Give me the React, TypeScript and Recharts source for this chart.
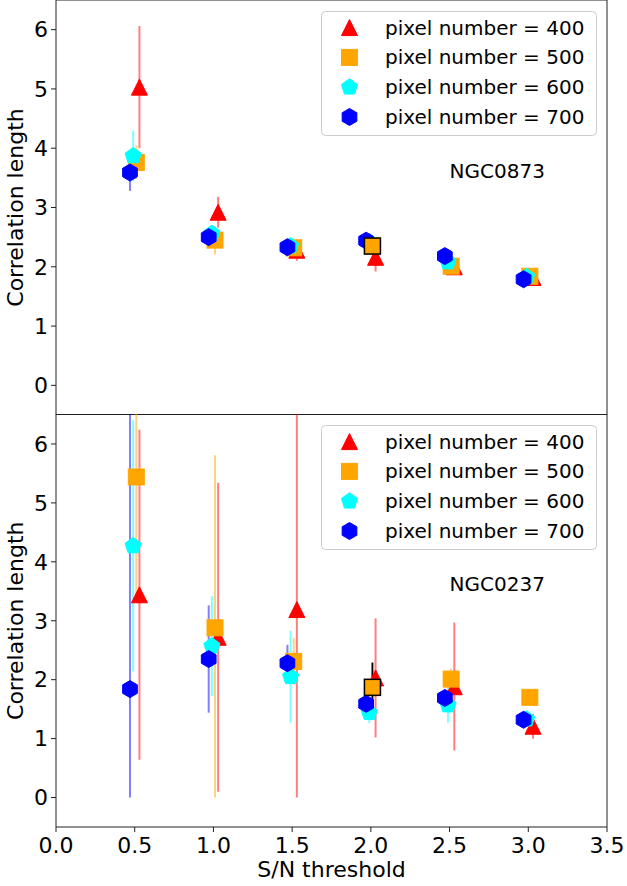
import React from 'react';
import {
  ScatterChart, Scatter, XAxis, YAxis, ErrorBar, ReferenceArea, ReferenceDot, Legend, Label,
} from 'recharts';

const FONT = '"DejaVu Sans", sans-serif';

// ---------- data ----------
const thresholds = [0.5, 1.0, 1.5, 2.0, 2.5, 3.0];
const pixelNumbers = [400, 500, 600, 700];
const xOffsets = [0.03, 0.01, -0.01, -0.03];
const xTicks = [0, 0.5, 1.0, 1.5, 2.0, 2.5, 3.0, 3.5];
const yTicks = [0, 1, 2, 3, 4, 5, 6];

// NGC0873 (top panel)
const n0873_400 = [5.03, 2.92, 2.28, 2.16, 2.0, 1.82];
const n0873_400_err = [1.03, 0.26, 0.18, 0.24, 0.08, 0.05];
const n0873_500 = [3.76, 2.45, 2.32, 2.35, 2.01, 1.84];
const n0873_500_err = [0.29, 0.24, 0.12, 0.1, 0.1, 0.08];
const n0873_600 = [3.87, 2.56, 2.35, 2.42, 2.08, 1.83];
const n0873_600_err = [0.43, 0.13, 0.08, 0.08, 0.08, 0.06];
const n0873_700 = [3.59, 2.5, 2.33, 2.44, 2.18, 1.79];
const n0873_700_err = [0.31, 0.08, 0.07, 0.05, 0.05, 0.05];

// NGC0237 (bottom panel) – lower / upper errors
const n0237_400 = [3.44, 2.72, 3.19, 2.03, 1.88, 1.21];
const n0237_400_lo = [2.8, 2.62, 3.19, 1.01, 1.08, 0.21];
const n0237_400_hi = [2.8, 2.62, 3.6, 1.01, 1.09, 0.21];
const n0237_500 = [5.44, 2.88, 2.31, 1.87, 2.01, 1.7];
const n0237_500_lo = [2.0, 2.88, 0.4, 0.42, 0.18, 0.05];
const n0237_500_hi = [2.0, 2.93, 0.4, 0.42, 0.18, 0.05];
const n0237_600 = [4.27, 2.57, 2.05, 1.44, 1.57, 1.33];
const n0237_600_lo = [2.13, 0.85, 0.78, 0.18, 0.3, 0.06];
const n0237_600_hi = [2.13, 0.85, 0.78, 0.18, 0.4, 0.06];
const n0237_700 = [1.84, 2.35, 2.28, 1.59, 1.69, 1.32];
const n0237_700_lo = [1.84, 0.91, 0.31, 0.1, 0.1, 0.06];
const n0237_700_hi = [5.0, 0.91, 0.31, 0.1, 0.1, 0.06];

// highlighted point (pixel number = 500 at S/N = 2.0)
const highlightSeries = 1;
const highlightIndex = 3;

// ---------- styles ----------
const colors = ['#ff0000', '#ffa500', '#00ffff', '#0000ff'];
const errColors = ['rgba(255,0,0,0.5)', 'rgba(255,165,0,0.5)', 'rgba(0,255,255,0.5)', 'rgba(0,0,255,0.5)'];
const kinds = ['triangle', 'square', 'pentagon', 'hexagon'];
const MS = 16;

type Pt = { x: number; y: number; err: number[] };

function build(ys: number[], lo: number[], hi: number[], off: number): Pt[] {
  return thresholds.map((t, i) => ({ x: t + off, y: ys[i], err: [lo[i], hi[i]] }));
}

const topSeries: Pt[][] = [
  build(n0873_400, n0873_400_err, n0873_400_err, xOffsets[0]),
  build(n0873_500, n0873_500_err, n0873_500_err, xOffsets[1]),
  build(n0873_600, n0873_600_err, n0873_600_err, xOffsets[2]),
  build(n0873_700, n0873_700_err, n0873_700_err, xOffsets[3]),
];
const bottomSeries: Pt[][] = [
  build(n0237_400, n0237_400_lo, n0237_400_hi, xOffsets[0]),
  build(n0237_500, n0237_500_lo, n0237_500_hi, xOffsets[1]),
  build(n0237_600, n0237_600_lo, n0237_600_hi, xOffsets[2]),
  build(n0237_700, n0237_700_lo, n0237_700_hi, xOffsets[3]),
];

function polyPoints(cx: number, cy: number, r: number, n: number) {
  const pts: string[] = [];
  for (let k = 0; k < n; k++) {
    const a = (-90 + (360 / n) * k) * Math.PI / 180;
    pts.push(`${cx + r * Math.cos(a)},${cy + r * Math.sin(a)}`);
  }
  return pts.join(' ');
}

function Marker({ kind, cx, cy, fill, stroke, sw }: any) {
  if (cx == null || cy == null) return <g />;
  const h = MS / 2;
  if (kind === 'triangle') {
    return <polygon points={`${cx},${cy - h} ${cx - h},${cy + h} ${cx + h},${cy + h}`} fill={fill} stroke={stroke} strokeWidth={sw} />;
  }
  if (kind === 'square') {
    return <rect x={cx - h} y={cy - h} width={MS} height={MS} fill={fill} stroke={stroke} strokeWidth={sw} />;
  }
  if (kind === 'pentagon') {
    return <polygon points={polyPoints(cx, cy, h + 0.5, 5)} fill={fill} stroke={stroke} strokeWidth={sw} />;
  }
  return <polygon points={polyPoints(cx, cy, h + 0.5, 6)} fill={fill} stroke={stroke} strokeWidth={sw} />;
}

const makeShape = (i: number) => (p: any) => (
  <Marker kind={kinds[i]} cx={p.cx} cy={p.cy} fill={colors[i]} stroke={colors[i]} sw={1} />
);
const highlightShape = (p: any) => (
  <Marker kind="square" cx={p.cx} cy={p.cy} fill={colors[1]} stroke="#000" sw={1.5} />
);
const emptyShape = () => <g />;

function LegendBox() {
  return (
    <svg width={278} height={127} style={{ display: 'block', overflow: 'visible' }}>
      <rect x={0.5} y={0.5} width={275} height={124} rx={4} ry={4} fill="#ffffff" fillOpacity={0.8} stroke="#cccccc" strokeWidth={1} />
      {pixelNumbers.map((pn, i) => {
        const cy = 16.6 + i * 29.8;
        return (
          <g key={pn}>
            <Marker kind={kinds[i]} cx={28.5} cy={cy} fill={colors[i]} stroke={colors[i]} sw={1} />
            <text x={64} y={cy + 7} fontSize={20} fontFamily={FONT} fill="#000">{`pixel number = ${pn}`}</text>
          </g>
        );
      })}
    </svg>
  );
}

const yLabel = (props: any) => {
  const vb = props.viewBox || {};
  const cx = 23;
  const cy = vb.y + vb.height / 2;
  return (
    <text x={cx} y={cy} transform={`rotate(-90, ${cx}, ${cy})`} textAnchor="middle" fontSize={22} fontFamily={FONT} fill="#000">
      Correlation length
    </text>
  );
};

const xLabel = (props: any) => {
  const vb = props.viewBox || {};
  return (
    <text x={vb.x + vb.width / 2} y={vb.y + 50} textAnchor="middle" fontSize={22} fontFamily={FONT} fill="#000">
      S/N threshold
    </text>
  );
};

const ngcLabel = (name: string) => (props: any) => {
  const vb = props.viewBox || {};
  return (
    <text x={vb.x} y={vb.y} textAnchor="start" fontSize={20} fontFamily={FONT} fill="#000">{name}</text>
  );
};

function Panel({ series, name, showX, height, margin }: any) {
  const hp = series[highlightSeries][highlightIndex];
  return (
    <ScatterChart width={627} height={height} margin={margin}>
      <XAxis
        type="number" dataKey="x" domain={[0, 3.5]} ticks={xTicks} allowDataOverflow hide={!showX}
        height={59} axisLine={false} tickLine={{ stroke: '#222' }} tickSize={5} tickMargin={5} interval={0}
        tick={{ fill: '#000', fontSize: 22, fontFamily: FONT }}
        tickFormatter={(v: number) => v.toFixed(1)}
      >
        {showX ? <Label content={xLabel} /> : null}
      </XAxis>
      <YAxis
        type="number" dataKey="y" domain={[-0.5, 6.5]} ticks={yTicks} allowDataOverflow width={56}
        axisLine={false} tickLine={{ stroke: '#222' }} tickSize={5} tickMargin={3} interval={0}
        tick={{ fill: '#000', fontSize: 22, fontFamily: FONT }}
      >
        <Label content={yLabel} />
      </YAxis>
      <ReferenceArea x1={0} x2={3.5} y1={-0.5} y2={6.5} fill="none" fillOpacity={0} stroke="#222" strokeWidth={1} strokeOpacity={1} />
      <ReferenceDot x={2.5} y={3.5} r={0} fill="none" stroke="none" label={ngcLabel(name)} />
      {series.map((d: Pt[], i: number) => (
        <Scatter key={`m${i}`} data={d} shape={makeShape(i)} isAnimationActive={false} />
      ))}
      {series.map((d: Pt[], i: number) => (
        <Scatter key={`e${i}`} data={d} shape={emptyShape} isAnimationActive={false}>
          <ErrorBar dataKey="err" direction="y" width={0} stroke={errColors[i]} strokeWidth={2} />
        </Scatter>
      ))}
      <Scatter data={[hp]} shape={highlightShape} isAnimationActive={false}>
        <ErrorBar dataKey="err" direction="y" width={0} stroke="#000" strokeWidth={1.8} />
      </Scatter>
      <Legend
        layout="vertical" align="center" verticalAlign="middle"
        wrapperStyle={{ position: 'absolute', left: 321, top: 11, width: 278, height: 127 }}
        content={() => <LegendBox />}
      />
    </ScatterChart>
  );
}

export default function App() {
  return (
    <div style={{ position: 'absolute', left: 0, top: 0, width: 627, height: 886, background: '#fff' }}>
      <div style={{ position: 'absolute', left: 0, top: 0 }}>
        <Panel series={topSeries} name="NGC0873" showX={false} height={415} margin={{ top: 0, right: 20, bottom: 0, left: 0 }} />
      </div>
      <div style={{ position: 'absolute', left: 0, top: 414 }}>
        <Panel series={bottomSeries} name="NGC0237" showX={true} height={472} margin={{ top: 0.5, right: 20, bottom: 0, left: 0 }} />
      </div>
    </div>
  );
}
